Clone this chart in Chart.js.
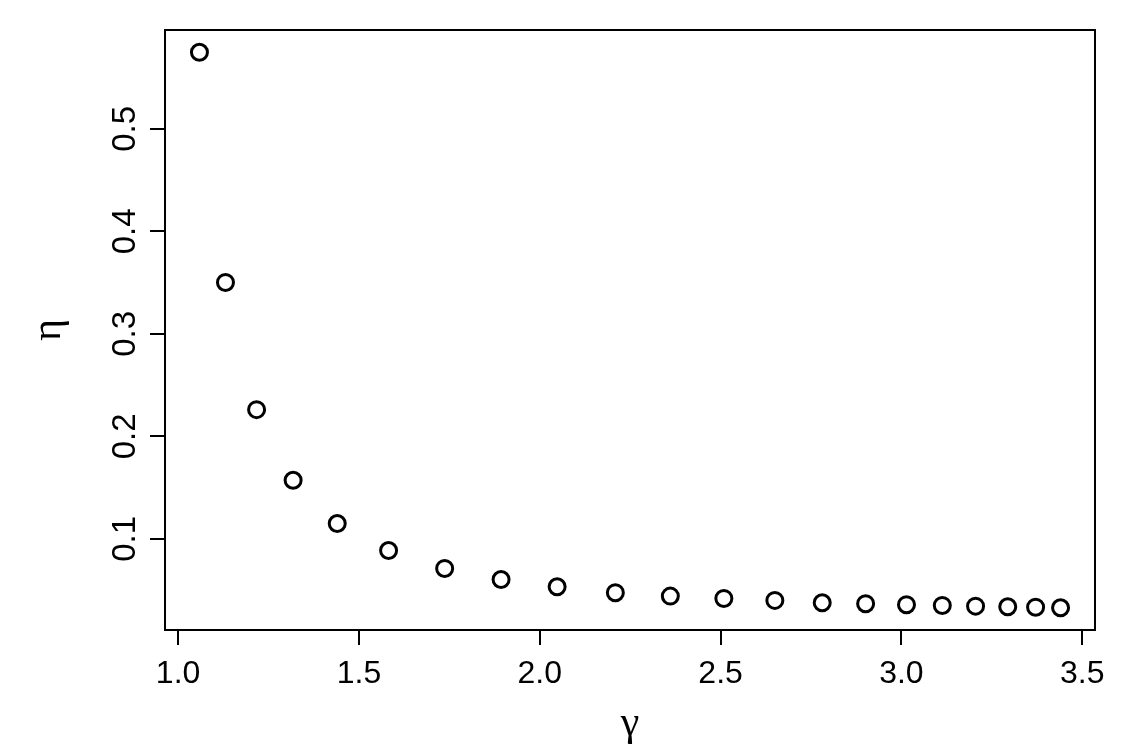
<!DOCTYPE html>
<html>
<head>
<meta charset="utf-8">
<script src="https://cdn.jsdelivr.net/npm/chart.js@4/dist/chart.umd.min.js"></script>
<style>
  html, body { margin: 0; padding: 0; background: #ffffff; }
  #wrap { width: 1125px; height: 750px; }
</style>
</head>
<body>
<div id="wrap"><canvas id="etaChart" width="1125" height="750"></canvas></div>
<script>
// valori (gamma -> eta)
const gammaValues = [1.059, 1.131, 1.217, 1.318, 1.440, 1.582, 1.737, 1.893, 2.048, 2.209,
                     2.361, 2.509, 2.650, 2.781, 2.901, 3.014, 3.113, 3.205, 3.294, 3.371, 3.440];
const etaValues   = [0.5748, 0.3502, 0.2261, 0.1572, 0.1150, 0.0887, 0.0712, 0.0604, 0.0533, 0.0475,
                     0.0442, 0.0419, 0.0400, 0.0377, 0.0368, 0.0358, 0.0351, 0.0344, 0.0338, 0.0334, 0.0328];
const xTicks = [1.0, 1.5, 2.0, 2.5, 3.0, 3.5];
const yTicks = [0.1, 0.2, 0.3, 0.4, 0.5];
const xTitle = 'γ';
const yTitle = 'η';

// Estensione del 4% come in R
function range4(values) {
    const lo = Math.min(...values), hi = Math.max(...values);
    const pad = (hi - lo) * 0.04;
    return [lo - pad, hi + pad];
}
const [xMin, xMax] = range4(gammaValues);
const [yMin, yMax] = range4(etaValues);

const sansFamily = '"Liberation Sans", Arial, Helvetica, sans-serif';
const serifFamily = '"Liberation Serif", "DejaVu Serif", serif';
const tickSize = 32;

// Cornice del grafico + etichette asse y ruotate (stile R)
const rStylePlugin = {
    id: 'rStyle',
    afterDraw(chart) {
        const { ctx, chartArea: a, scales } = chart;
        ctx.save();
        ctx.strokeStyle = '#000';
        ctx.lineWidth = 2;
        ctx.strokeRect(a.left, a.top, a.right - a.left, a.bottom - a.top);

        ctx.fillStyle = '#000';
        ctx.font = (tickSize + 1) + 'px ' + sansFamily;
        ctx.textAlign = 'center';
        ctx.textBaseline = 'alphabetic';
        yTicks.forEach(v => {
            const y = scales.y.getPixelForValue(v);
            ctx.save();
            ctx.translate(135, y);
            ctx.rotate(-Math.PI / 2);
            ctx.fillText(v.toFixed(1), 0, 0);
            ctx.restore();
        });
        ctx.restore();
    }
};

const ctx = document.getElementById('etaChart').getContext('2d');
new Chart(ctx, {
    type: 'scatter',
    data: {
        datasets: [{
            data: gammaValues.map((g, i) => ({ x: g, y: etaValues[i] })),
            pointStyle: 'circle',
            pointRadius: 8,
            pointBorderWidth: 3,
            pointBorderColor: '#000',
            pointBackgroundColor: 'rgba(0,0,0,0)',
            showLine: false
        }]
    },
    options: {
        responsive: false,
        animation: false,
        layout: { padding: { top: 30, right: 30, left: 0, bottom: 0 } },
        plugins: { legend: { display: false }, tooltip: { enabled: false } },
        scales: {
            x: {
                type: 'linear',
                min: xMin,
                max: xMax,
                afterBuildTicks: s => { s.ticks = xTicks.map(v => ({ value: v })); },
                afterFit: s => { s.height = 120; },
                border: { display: false },
                grid: { drawOnChartArea: false, drawTicks: true, tickLength: 15, color: '#000', lineWidth: 2 },
                ticks: {
                    color: '#000',
                    padding: 10,
                    maxRotation: 0,
                    font: { family: sansFamily, size: tickSize },
                    callback: v => v.toFixed(1)
                },
                title: {
                    display: true,
                    text: xTitle,
                    color: '#000',
                    font: { family: serifFamily, size: 42 },
                    padding: { top: 0, bottom: 1 }
                }
            },
            y: {
                type: 'linear',
                min: yMin,
                max: yMax,
                afterBuildTicks: s => { s.ticks = yTicks.map(v => ({ value: v })); },
                afterFit: s => { s.width = 165; },
                border: { display: false },
                grid: { drawOnChartArea: false, drawTicks: true, tickLength: 15, color: '#000', lineWidth: 2 },
                ticks: { display: false },
                title: {
                    display: true,
                    text: yTitle,
                    color: '#000',
                    font: { family: serifFamily, size: 42 },
                    padding: { top: 24, bottom: 0 }
                }
            }
        }
    },
    plugins: [rStylePlugin]
});
</script>
</body>
</html>
